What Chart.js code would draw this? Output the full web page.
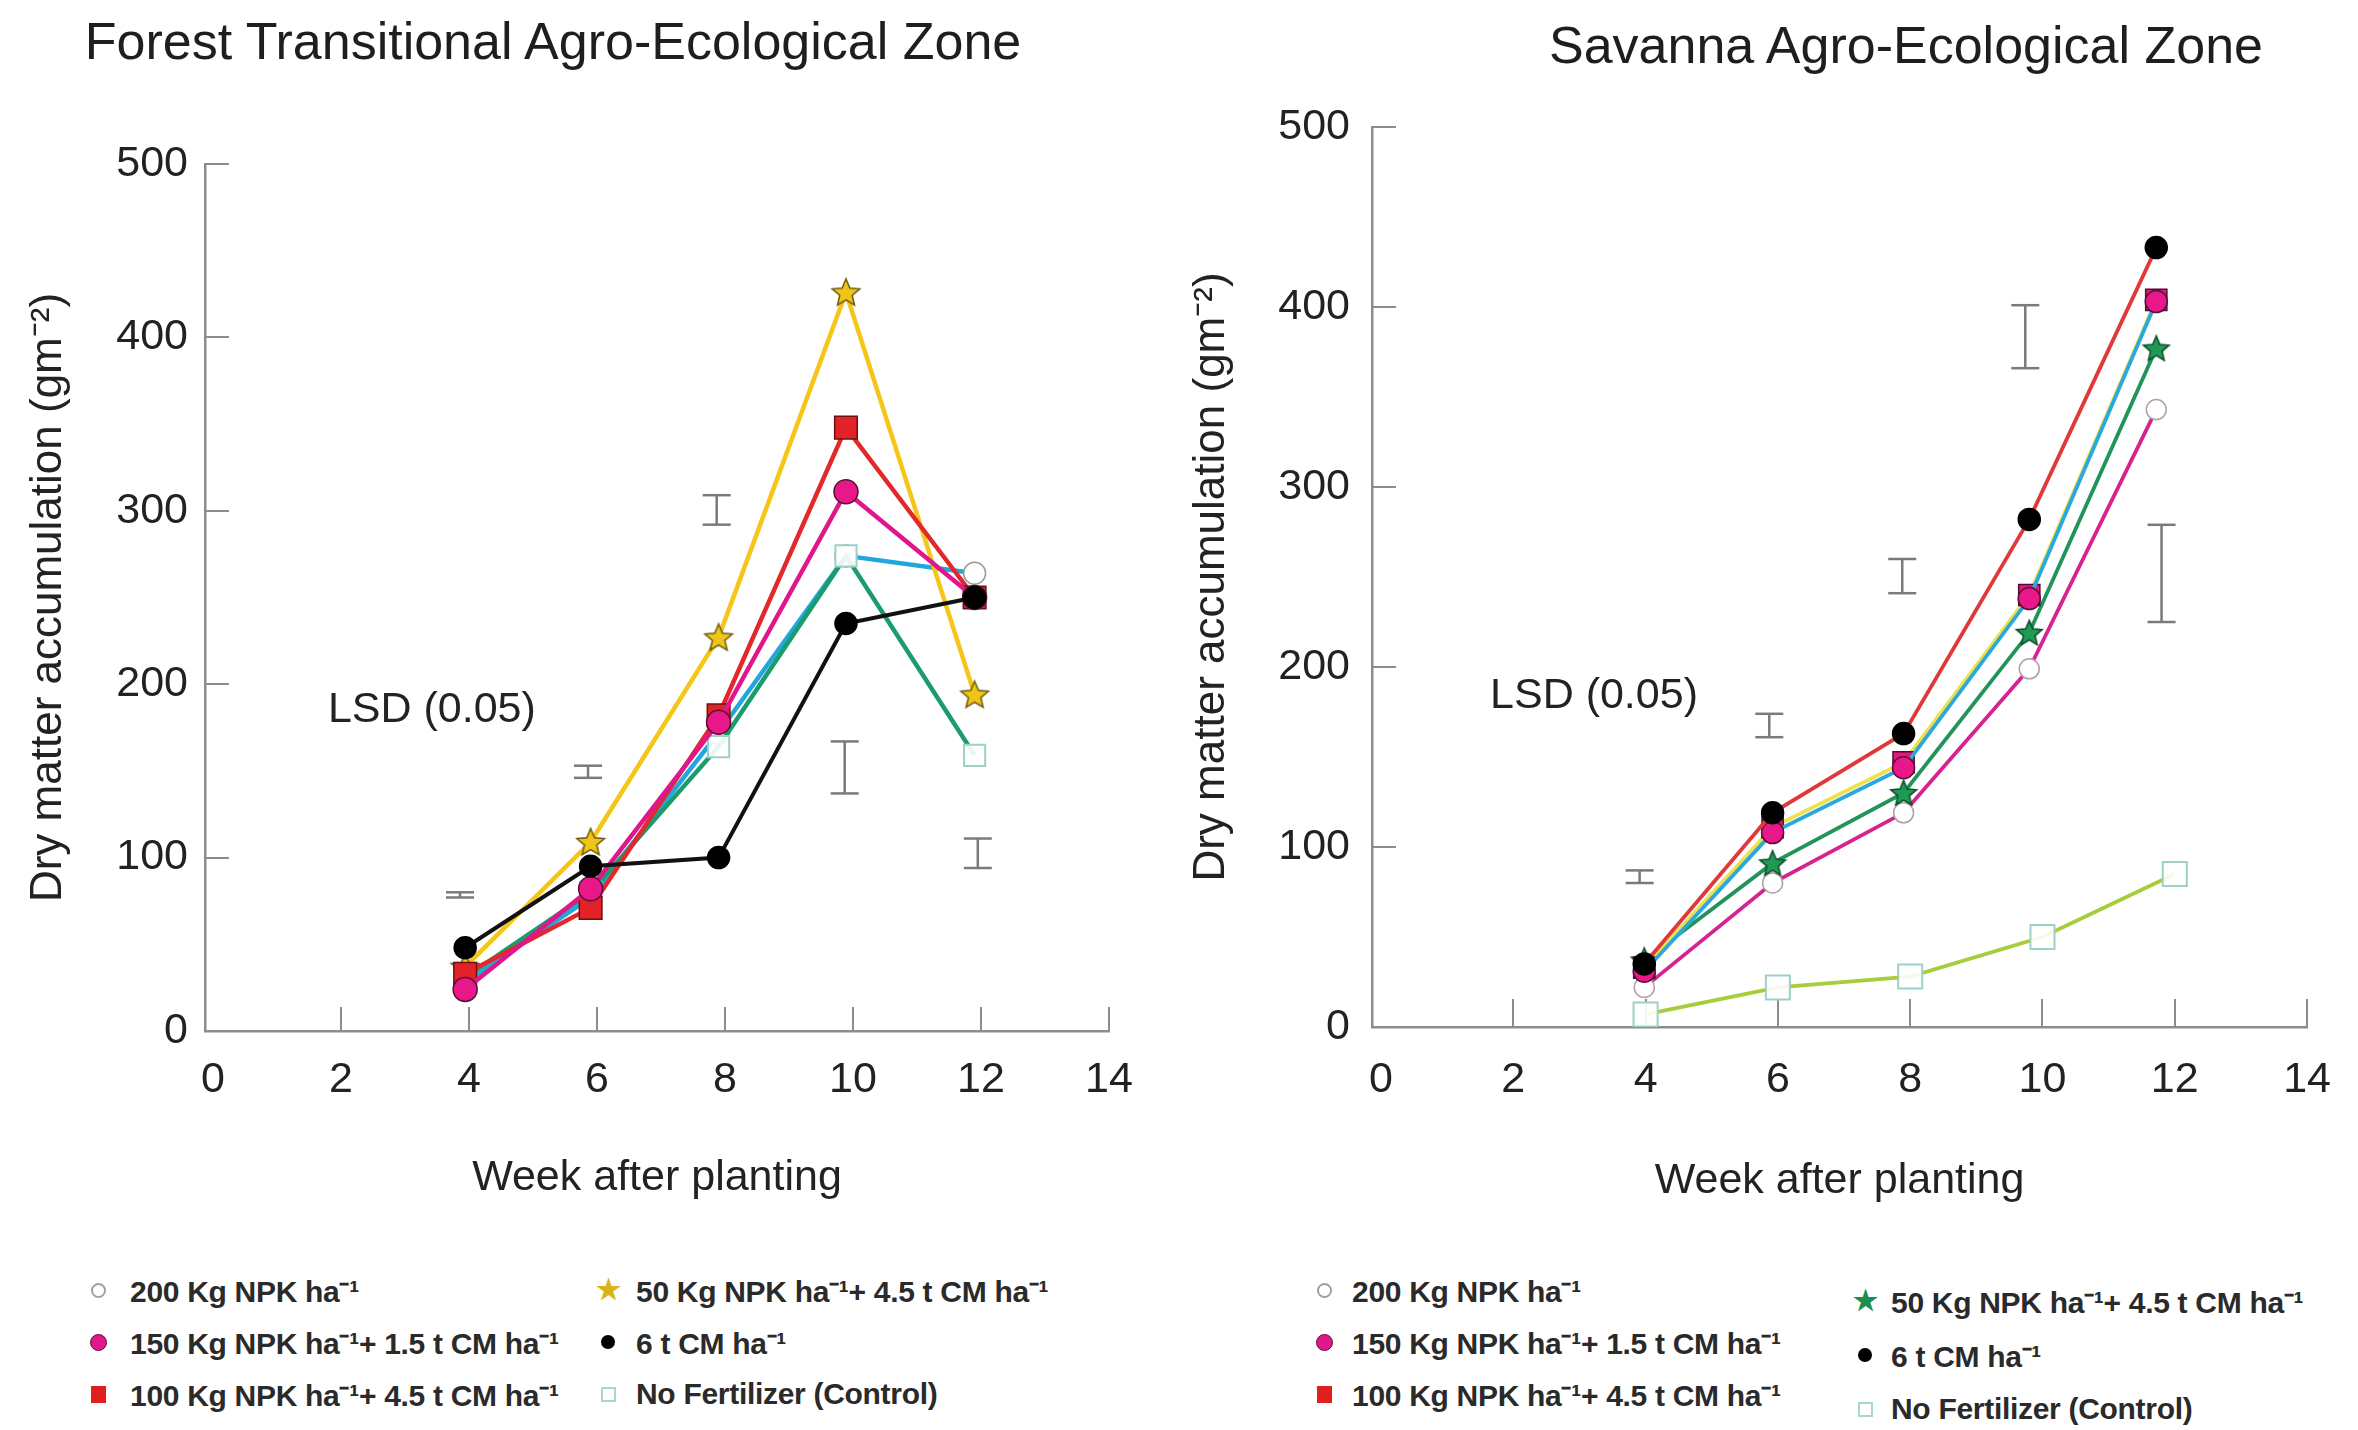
<!DOCTYPE html>
<html>
<head>
<meta charset="utf-8">
<script src="https://cdn.jsdelivr.net/npm/chart.js@4.4.1/dist/chart.umd.min.js"></script>
<style>
  body { margin: 0; background: #fff; width: 2358px; height: 1430px; position: relative; overflow: hidden;
         font-family: "Liberation Sans", Arial, Helvetica, sans-serif; color: #222; }
  canvas { position: absolute; top: 0; }
  .zone-title { position: absolute; font-size: 52px; white-space: nowrap; transform: translate(-50%, -50%); color: #1e1e1e; }
  .legend-col { position: absolute; }
  .legend-row { display: flex; align-items: center; height: 52px; font-size: 30px; font-weight: bold;
                white-space: nowrap; letter-spacing: -0.3px; color: #2a2a2a; }
  .mk { width: 24px; display: inline-flex; justify-content: center; align-items: center; margin-right: 18px; }
  .mk i { display: block; box-sizing: border-box; }
</style>
</head>
<body>
<div class="zone-title" style="left:553px; top:41px">Forest Transitional Agro-Ecological Zone</div>
<div class="zone-title" style="left:1906px; top:45px">Savanna Agro-Ecological Zone</div>
<canvas id="forestChart" width="1180" height="1204" style="left:0"></canvas>
<canvas id="savannaChart" width="1178" height="1207" style="left:1180px"></canvas>
<div id="forestLegend"></div>
<div id="savannaLegend"></div>
<script>
// treatments, same order in both zones
var seriesLabels = [
  '200 Kg NPK ha\u207B\u00B9',
  '150 Kg NPK ha\u207B\u00B9+ 1.5 t CM ha\u207B\u00B9',
  '100 Kg NPK ha\u207B\u00B9+ 4.5 t CM ha\u207B\u00B9',
  '50 Kg NPK ha\u207B\u00B9+ 4.5 t CM ha\u207B\u00B9',
  '6 t CM ha\u207B\u00B9',
  'No Fertilizer (Control)'
];
var xTicks = [0, 2, 4, 6, 8, 10, 12, 14];
var yTicks = [0, 100, 200, 300, 400, 500];

// Forest transitional zone, dry matter (g m-2)
var forestWeeks = [3.94, 5.9, 7.9, 9.89, 11.9];
var forestNpk200 = [28, 77, 172, 274, 264];
var forestNpk150 = [24, 82, 178, 311, 250];
var forestNpk100 = [33, 71, 182, 348, 250];
var forestNpk50 = [37, 109, 227, 426, 194];
var forestCm6 = [48, 95, 100, 235, 250];
var forestControl = [31, 80, 164, 274, 159];
var forestLsdWeeks = [3.86, 5.86, 7.87, 9.87, 11.95];
var forestLsdLow = [77, 146, 292, 137, 94];
var forestLsdHigh = [80, 153, 309, 167, 111];

// Savanna zone
var savannaWeeks = [3.98, 5.92, 7.9, 9.8, 11.72];
var savannaControlWeeks = [4, 6, 8, 10, 12];
var savannaNpk200 = [22, 80, 119, 199, 343];
var savannaNpk150 = [31, 108, 144, 238, 403];
var savannaNpk100 = [33, 111, 147, 240, 404];
var savannaNpk50 = [37, 91, 130, 219, 377];
var savannaCm6 = [35, 119, 163, 282, 433];
var savannaControl = [7, 22, 28, 50, 85];
var savannaLsdWeeks = [3.91, 5.87, 7.88, 9.74, 11.8];
var savannaLsdLow = [80, 161, 241, 366, 225];
var savannaLsdHigh = [87, 174, 260, 401, 279];

var FONT = '"Liberation Sans", Arial, Helvetica, sans-serif';
var AXIS_GREY = '#8c8c8c';

function star(size, fill, stroke) {
  var c = document.createElement('canvas');
  c.width = c.height = size;
  var g = c.getContext('2d');
  var r = size / 2 - 1.5, ri = r * 0.45, cx = size / 2, cy = size / 2 + 1;
  g.beginPath();
  for (var i = 0; i < 10; i++) {
    var a = -Math.PI / 2 + i * Math.PI / 5, rr = i % 2 ? ri : r;
    g.lineTo(cx + rr * Math.cos(a), cy + rr * Math.sin(a));
  }
  g.closePath();
  g.fillStyle = fill; g.fill();
  g.lineWidth = 1.5; g.strokeStyle = stroke; g.stroke();
  return c;
}

function pts(xs, ys) {
  return ys.map(function (v, i) { return {x: xs[i], y: v}; });
}

// LSD bars as one broken line, caps drawn as 'line' points
function lsd(xs, lo, hi) {
  var out = [];
  xs.forEach(function (x, i) {
    out.push({x: x, y: lo[i]}, {x: x, y: hi[i]}, {x: x, y: null});
  });
  return {
    data: out, borderColor: '#7a7a7a', borderWidth: 2.5, spanGaps: false,
    pointStyle: 'line', pointRadius: 14, pointBorderWidth: 2.5, pointBorderColor: '#7a7a7a', order: 10
  };
}

function series(xs, ys, line, width, marker) {
  return Object.assign({
    data: pts(xs, ys), borderColor: line, borderWidth: width, tension: 0,
    pointBorderWidth: 1.5
  }, marker);
}

// inward tick marks and the LSD caption
var innerTicks = {
  id: 'innerTicks',
  beforeDatasetsDraw: function (chart, args, o) {
    var ctx = chart.ctx, x = chart.scales.x, y = chart.scales.y, a = chart.chartArea;
    ctx.save();
    ctx.strokeStyle = AXIS_GREY;
    ctx.lineWidth = 2;
    xTicks.forEach(function (v) {
      if (v === 0) return;
      var px = Math.round(x.getPixelForValue(v));
      ctx.beginPath(); ctx.moveTo(px, a.bottom); ctx.lineTo(px, a.bottom - o.xLen); ctx.stroke();
    });
    yTicks.forEach(function (v) {
      if (v === 0) return;
      var py = Math.round(y.getPixelForValue(v));
      ctx.beginPath(); ctx.moveTo(a.left, py); ctx.lineTo(a.left + o.yLen, py); ctx.stroke();
    });
    ctx.fillStyle = '#222';
    ctx.font = '43px ' + FONT;
    ctx.textAlign = 'center';
    ctx.textBaseline = 'middle';
    ctx.fillText('LSD (0.05)', x.getPixelForValue(o.at[0]), y.getPixelForValue(o.at[1]));
    ctx.restore();
  }
};

function makeChart(id, datasets, cfg) {
  return new Chart(document.getElementById(id), {
    type: 'line',
    data: {datasets: datasets},
    plugins: [innerTicks],
    options: {
      responsive: false,
      animation: false,
      layout: {padding: {top: cfg.top, right: cfg.right, left: 0, bottom: 0}},
      plugins: {
        legend: {display: false},
        tooltip: {enabled: false},
        innerTicks: {xLen: cfg.xLen, yLen: 24, at: cfg.lsdAt}
      },
      scales: {
        x: {
          type: 'linear', min: cfg.xMin, max: 14,
          afterBuildTicks: function (s) { s.ticks = xTicks.map(function (v) { return {value: v}; }); },
          afterFit: function (s) { s.height = cfg.xHeight; },
          grid: {display: false, drawTicks: false},
          border: {display: true, color: AXIS_GREY, width: 2.5},
          ticks: {color: '#222', font: {family: FONT, size: 43}, padding: cfg.xPad, maxRotation: 0},
          title: {display: true, text: 'Week after planting', color: '#222',
                  font: {family: FONT, size: 43}, padding: {top: 0, bottom: 0}}
        },
        y: {
          type: 'linear', min: 0, max: 500,
          afterBuildTicks: function (s) { s.ticks = yTicks.map(function (v) { return {value: v}; }); },
          afterFit: function (s) { s.width = cfg.yWidth; },
          grid: {display: false, drawTicks: false},
          border: {display: true, color: AXIS_GREY, width: 2.5},
          ticks: {color: '#222', font: {family: FONT, size: 43}, padding: cfg.yPad},
          title: {display: true, text: 'Dry matter accumulation (gm\u207B\u00B2)', color: '#222',
                  font: {family: FONT, size: 44}, padding: {top: cfg.yTitlePad, bottom: 0}}
        }
      }
    }
  });
}

var openCircle = {pointStyle: 'circle', pointRadius: 11, pointBackgroundColor: '#fff', pointBorderColor: '#9a9a9a'};
var pinkCircle = {pointStyle: 'circle', pointRadius: 12, pointBackgroundColor: '#e8188a', pointBorderColor: '#5a0f36'};
var redSquare = {pointStyle: 'rect', pointRadius: 16, pointBackgroundColor: '#e32228', pointBorderColor: '#6a1010'};
var blackDot = {pointStyle: 'circle', pointRadius: 11, pointBackgroundColor: '#000', pointBorderColor: '#000'};
var openSquare = {pointStyle: 'rect', pointRadius: 15, pointBackgroundColor: 'rgba(255,255,255,0.9)', pointBorderColor: '#9fd0c8', pointBorderWidth: 2};

// first dataset is painted last, so it sits on top
makeChart('forestChart', [
  series(forestWeeks, forestCm6, '#111111', 4, blackDot),
  series(forestWeeks, forestNpk150, '#e0168b', 4.5, pinkCircle),
  series(forestWeeks, forestNpk100, '#e2282a', 4.5, redSquare),
  series(forestWeeks, forestNpk50, '#f5c518', 4.5, {pointStyle: star(32, '#f0c419', '#6b5a10'), pointRadius: 16}),
  series(forestWeeks, forestControl, '#1c9b6c', 4.5, openSquare),
  series(forestWeeks, forestNpk200, '#22a7dd', 4.5, openCircle),
  lsd(forestLsdWeeks, forestLsdLow, forestLsdHigh)
], {top: 164, right: 71, xMin: -0.125, xHeight: 173, xPad: 23, yWidth: 205, yPad: 17,
    yTitlePad: 22, xLen: 24, lsdAt: [3.42, 185]});

makeChart('savannaChart', [
  series(savannaWeeks, savannaCm6, '#e0393a', 3.8, Object.assign({}, blackDot, {pointRadius: 11})),
  series(savannaWeeks, savannaNpk150, '#2aa9e0', 3.8, Object.assign({}, pinkCircle, {pointRadius: 11})),
  series(savannaWeeks, savannaNpk100, '#f0e14a', 3.8, Object.assign({}, redSquare, {pointBackgroundColor: '#e8157f', pointBorderColor: '#4a1030', pointRadius: 15})),
  series(savannaWeeks, savannaNpk50, '#22945a', 3.8, {pointStyle: star(30, '#1f9a55', '#0d4a28'), pointRadius: 15}),
  series(savannaWeeks, savannaNpk200, '#d6238f', 3.8, Object.assign({}, openCircle, {pointRadius: 10, pointBorderColor: '#b0a0a8'})),
  series(savannaControlWeeks, savannaControl, '#a9cd3a', 3.8, Object.assign({}, openSquare, {pointRadius: 17})),
  lsd(savannaLsdWeeks, savannaLsdLow, savannaLsdHigh)
], {top: 127, right: 50, xMin: -0.136, xHeight: 180, xPad: 27, yWidth: 192, yPad: 22,
    yTitlePad: 5, xLen: 28, lsdAt: [3.22, 184]});

// legend markers, one per treatment
function markerHtml(k, starColor) {
  switch (k) {
    case 0: return '<i style="width:15px;height:15px;border:2px solid #a0a0a0;border-radius:50%"></i>';
    case 1: return '<i style="width:17px;height:17px;background:#e0188a;border:1px solid #5a0f36;border-radius:50%"></i>';
    case 2: return '<i style="width:15px;height:17px;background:#e02020"></i>';
    case 3: return '<span style="color:' + starColor + ';font-size:28px;line-height:1">\u2605</span>';
    case 4: return '<i style="width:14px;height:14px;background:#000;border-radius:50%"></i>';
    default: return '<i style="width:15px;height:15px;border:2px solid #a9d6cf"></i>';
  }
}

function buildLegend(el, cols, starColor) {
  var html = '';
  cols.forEach(function (c) {
    html += '<div class="legend-col" style="left:' + c.left + 'px;top:' + c.top + 'px">';
    c.items.forEach(function (k) {
      html += '<div class="legend-row" style="height:' + c.rowH + 'px"><span class="mk" style="margin-right:' + c.gap + 'px">' +
        markerHtml(k, starColor) + '</span><span>' + seriesLabels[k] + '</span></div>';
    });
    html += '</div>';
  });
  el.innerHTML = html;
}

buildLegend(document.getElementById('forestLegend'), [
  {left: 86, top: 1264, rowH: 52, gap: 20, items: [0, 1, 2]},
  {left: 596, top: 1264, rowH: 52, gap: 16, items: [3, 4, 5]}
], '#d8b41c');
buildLegend(document.getElementById('savannaLegend'), [
  {left: 1312, top: 1264, rowH: 52, gap: 16, items: [0, 1, 2]},
  {left: 1853, top: 1274, rowH: 54, gap: 14, items: [3, 4, 5]}
], '#1e8d50');
</script>
</body>
</html>
